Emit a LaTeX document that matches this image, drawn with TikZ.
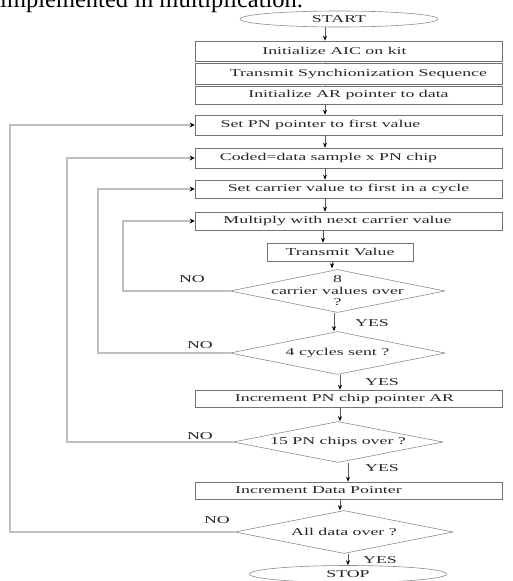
\documentclass[tikz,border=0pt]{standalone}
\usepackage{fontspec}
\setmainfont{Liberation Serif}
\newfontfamily\flowfont[FakeStretch=1.7]{Liberation Serif}
\usetikzlibrary{shapes.geometric,arrows.meta}
\begin{document}
\begin{tikzpicture}[x=1pt,y=-1pt,
  every node/.style={inner sep=0pt},
  ft/.style={font=\flowfont\fontsize{10.5}{12}\selectfont, text=black!85},
  pbox/.style={draw=black!55, line width=0.6pt, rectangle, minimum width=307pt, ft},
  term/.style={draw=black!45, line width=0.6pt, ellipse, minimum width=198pt, minimum height=16pt, ft},
  dec/.style={draw=black!45, line width=0.6pt, diamond, ft},
  lab/.style={ft},
  flow/.style={draw=black!65, line width=0.6pt, -{Stealth[length=5pt,width=4pt,black]}},
  tick/.style={draw=black!40, line width=0.5pt},
  loopl/.style={draw=black!25, line width=1.6pt, -{Stealth[length=5pt,width=5pt,black]}}
]
\useasboundingbox (0,0) rectangle (512,581);
\node[anchor=base west, font=\fontsize{24.5}{24.5}\selectfont] (cap) at (0,7) {implemented in multiplication.};

\node[term] (start) at (339,19) {START};
\node[pbox, minimum height=20pt] (b1) at (348.5,51) {\hspace*{-28pt}Initialize AIC on kit};
\node[pbox, minimum height=21pt] (b2) at (348.5,73.5) {\hspace*{20pt}Transmit Synchionization Sequence};
\node[pbox, minimum height=18pt] (b3) at (348.5,95) {Initialize AR pointer to data};
\node[pbox, minimum height=20pt] (b4) at (348.5,125) {\hspace*{-56pt}Set PN pointer to first value};
\node[pbox, minimum height=20pt] (b5) at (348.5,158) {\hspace*{-40pt}Coded=data sample x PN chip};
\node[pbox, minimum height=18pt] (b6) at (348.5,189) {Set carrier value to first in a cycle};
\node[pbox, minimum height=18pt] (b7) at (348.5,221) {\hspace*{-22pt}Multiply with next carrier value};
\node[draw=black!55, line width=0.6pt, rectangle, minimum width=146pt, minimum height=18pt, ft] (tv) at (340,252) {Transmit Value};
\node[dec, minimum width=215pt, minimum height=43pt,
  label={[ft, align=center, font=\flowfont\fontsize{10.5}{11.5}\selectfont]center:8\\carrier values over\\?}] (d1) at (337.5,291) {};
\node[dec, minimum width=215pt, minimum height=43pt,
  label={[ft]center:4 cycles sent ?}] (d2) at (337.5,353) {};
\node[pbox, minimum height=17pt] (b8) at (348.5,398.5) {\hspace*{-8pt}Increment PN chip pointer AR};
\node[dec, minimum width=210pt, minimum height=41pt,
  label={[ft]center:15 PN chips over ?}] (d3) at (338,442) {};
\node[pbox, minimum height=17pt] (b9) at (348.5,490.5) {\hspace*{-60pt}Increment Data Pointer};
\node[dec, minimum width=218pt, minimum height=43pt,
  label={[ft]center:All data over ?}] (d4) at (344,532) {};
\node[term, minimum width=197pt, minimum height=17pt] (stop) at (348,574) {STOP};

% axis coordinates
\coordinate (a1) at (325,0);
\coordinate (a2) at (323,0);
\coordinate (a3) at (332,0);
\coordinate (a4) at (334,0);
\coordinate (a5) at (340,0);
\coordinate (a6) at (348,0);
\coordinate (a7) at (340,0);

\draw[flow] (start.south -| a1) -- (b1.north -| a1);
\draw[tick] (b1.south -| a1) -- (b2.north -| a1);
\draw[tick] (b2.south -| a1) -- (b3.north -| a1);
\draw[flow] (b3.south -| a1) -- (b4.north -| a1);
\draw[flow] (b4.south -| a1) -- (b5.north -| a1);
\draw[flow] (b5.south -| a1) -- (b6.north -| a1);
\draw[flow] (b6.south -| a1) -- (b7.north -| a1);
\draw[flow] (b7.south -| a2) -- (tv.north -| a2);
\draw[flow] (tv.south -| a3) -- ([yshift=1pt]d1.north -| a3);
\draw[flow] (d1.south -| a4) -- (d2.north -| a4);
\draw[flow] (d2.south -| a5) -- (b8.north -| a5);
\draw[flow] (b8.south -| a5) -- (d3.north -| a5);
\draw[flow] (d3.south -| a6) -- (b9.north -| a6);
\draw[flow] (b9.south -| a7) -- (d4.north -| a7);
\draw[flow] (d4.south -| a6) -- (stop.north -| a6);

% loops
\coordinate (l4) at (123,291);
\coordinate (l3) at (98,353);
\coordinate (l2) at (67,442);
\coordinate (l1) at (10,532);
\draw[loopl] (d1.west) -- (l4) |- (b7.west);
\draw[loopl] (d2.west) -- (l3) |- (b6.west);
\draw[loopl] (d3.west) -- (l2) |- (b5.west);
\draw[loopl] (d4.west) -- (l1) |- (b4.west);

% labels
\node[lab] (no1) at (192,279) {NO};
\node[lab] (no2) at (200,345) {NO};
\node[lab] (no3) at (200,436) {NO};
\node[lab] (no4) at (217,520) {NO};
\node[lab] (y1) at (372,323) {YES};
\node[lab] (y2) at (382,382) {YES};
\node[lab] (y3) at (382,468) {YES};
\node[lab] (y4) at (380,560) {YES};
\end{tikzpicture}
\end{document}
